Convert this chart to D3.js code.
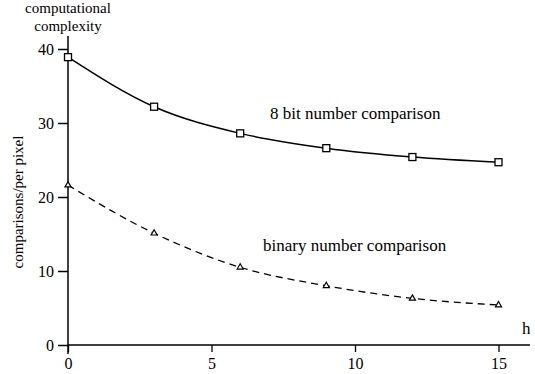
<!DOCTYPE html>
<html><head><meta charset="utf-8">
<script src="https://cdn.jsdelivr.net/npm/d3@7"></script>
<style>body{margin:0;background:#fff}svg{display:block}</style>
</head><body><svg id="c" width="535" height="374"></svg>
<script>
const hValues = [0, 3, 6, 9, 12, 15];
const eightBit = [38.9, 32.2, 28.6, 26.6, 25.4, 24.7];
const binary = [21.6, 15.1, 10.5, 8.0, 6.3, 5.4];
const xTicks = [0, 5, 10, 15];
const yTicks = [0, 10, 20, 30, 40];

const FONT = "Liberation Serif";
const svg = d3.select("#c");
const x = d3.scaleLinear().domain([0, 10]).range([68, 355]);
const y = d3.scaleLinear().domain([0, 40]).range([345, 49]);

svg.append("line").attr("x1", 68).attr("x2", 530).attr("y1", y(0)).attr("y2", y(0)).attr("stroke", "#000").attr("stroke-width", 1.5);
svg.append("line").attr("x1", 68).attr("x2", 68).attr("y1", 36).attr("y2", 354).attr("stroke", "#000").attr("stroke-width", 1.5);

const xAxis = d3.axisBottom(x).tickValues(xTicks).tickSize(7).tickPadding(6).tickFormat(d3.format("d"));
const gx = svg.append("g").attr("transform", `translate(0,${y(0)})`).call(xAxis);
gx.select(".domain").remove();
gx.selectAll("line").attr("stroke", "#000").attr("stroke-width", 1.3);
gx.attr("font-family", FONT).attr("font-size", 16);
gx.selectAll("text").attr("fill", "#000");

const yAxis = d3.axisLeft(y).tickValues(yTicks).tickSize(10).tickPadding(4).tickFormat(d3.format("d"));
const gy = svg.append("g").attr("transform", "translate(68,0)").call(yAxis);
gy.select(".domain").remove();
gy.selectAll("line").attr("stroke", "#000").attr("stroke-width", 1.5);
gy.attr("font-family", FONT).attr("font-size", 16);
gy.selectAll("text").attr("fill", "#000");

const line = d3.line().x((d, i) => x(hValues[i])).y(d => y(d)).curve(d3.curveMonotoneX);

svg.append("path").attr("d", line(eightBit)).attr("fill", "none").attr("stroke", "#000").attr("stroke-width", 1.5);
svg.append("path").attr("d", line(binary)).attr("fill", "none").attr("stroke", "#000").attr("stroke-width", 1.3).attr("stroke-dasharray", "7,5");

svg.selectAll(".sq").data(eightBit).enter().append("rect")
  .attr("x", (d, i) => x(hValues[i]) - 3.5).attr("y", d => y(d) - 3.5)
  .attr("width", 7).attr("height", 7).attr("fill", "#fff").attr("stroke", "#000").attr("stroke-width", 1.3);

const tri = d3.symbol().type(d3.symbolTriangle).size(16);
svg.selectAll(".tr").data(binary).enter().append("path")
  .attr("d", tri).attr("transform", (d, i) => `translate(${x(hValues[i])},${y(d)})`)
  .attr("fill", "#fff").attr("stroke", "#000").attr("stroke-width", 1.2);

function label(xp, yp, txt, size, anchor) {
  return svg.append("text").attr("x", xp).attr("y", yp).attr("text-anchor", anchor || "start")
    .attr("font-family", FONT).attr("font-size", size).attr("fill", "#000").text(txt);
}
label(68, 13, "computational", 15, "middle");
label(68, 31, "complexity", 15, "middle");
label(270, 119, "8 bit number comparison", 17);
label(263, 251, "binary number comparison", 17);
label(522, 334, "h", 17);
svg.append("text").attr("transform", "translate(23,202) rotate(-90)").attr("text-anchor", "middle")
  .attr("font-family", FONT).attr("font-size", 15).attr("fill", "#000").text("comparisons/per pixel");
</script></body></html>
